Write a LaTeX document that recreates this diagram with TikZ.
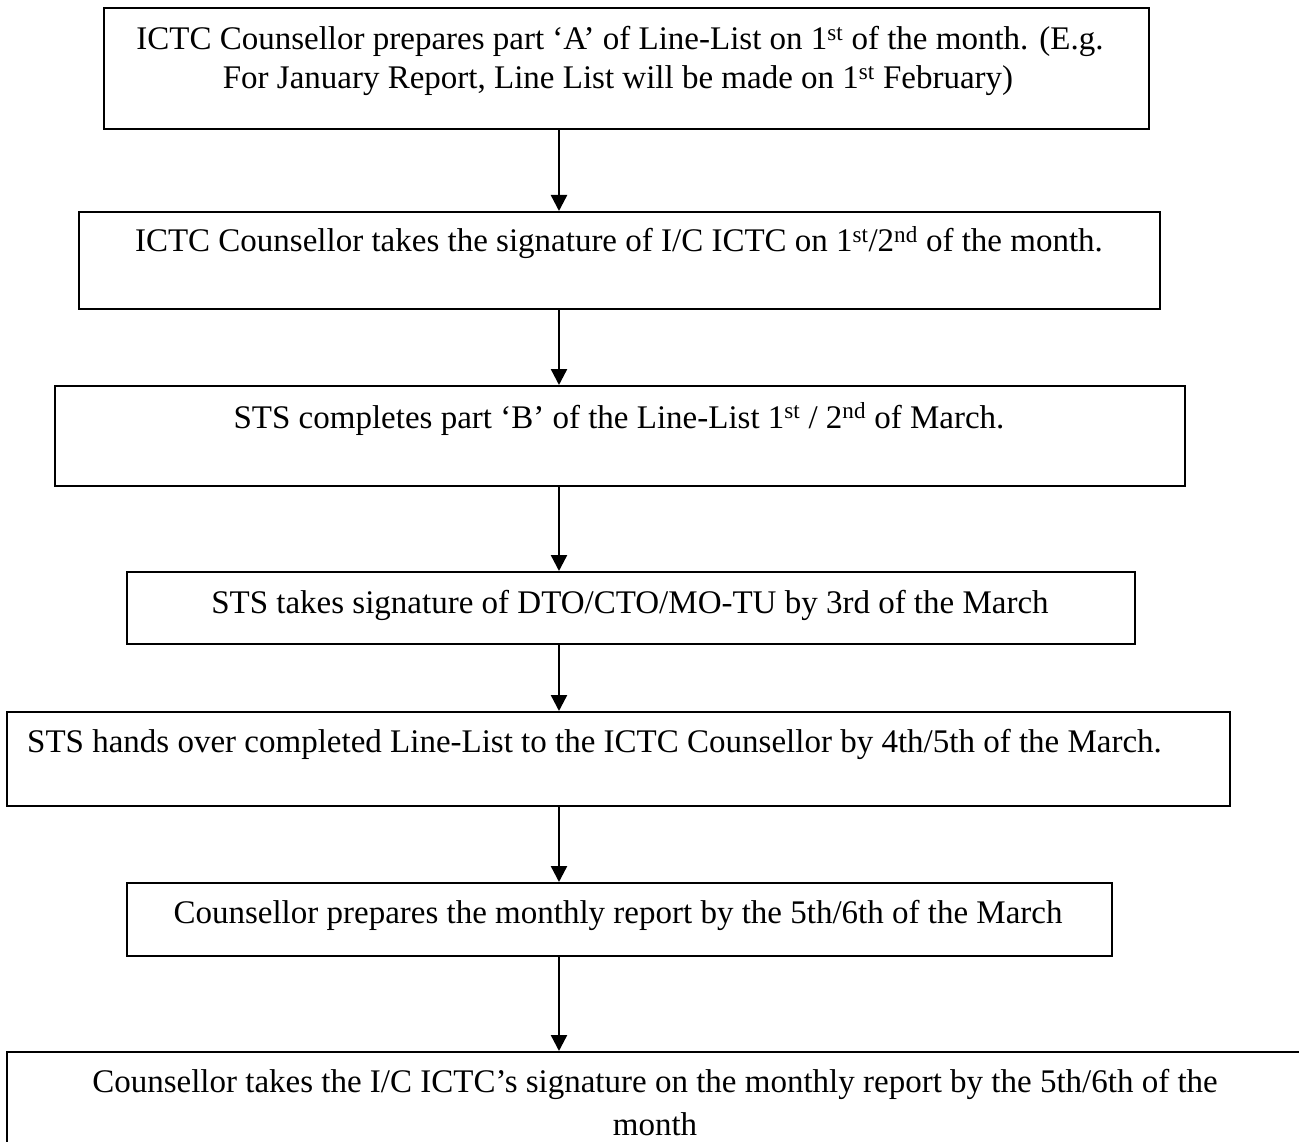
\documentclass[tikz,border=0pt]{standalone}
\usepackage{fontspec}
\setmainfont{Liberation Serif}
\usetikzlibrary{arrows.meta}
\tikzset{
  box/.style={draw=black, line width=2pt, rectangle, inner sep=0pt, anchor=north west},
  txt/.style={inner sep=0pt, anchor=base, font=\fontsize{33}{40}\selectfont},
  txtl/.style={inner sep=0pt, anchor=base west, font=\fontsize{33}{40}\selectfont},
  arr/.style={line width=2.4pt, -{Triangle[length=16pt,width=16pt]}}
}
\begin{document}
\begin{tikzpicture}[x=1pt,y=-1pt]
\useasboundingbox (0,0) rectangle (1299,1142);
\fill[white] (0,0) rectangle (1299,1142);
\clip (0,0) rectangle (1299,1142);
\coordinate (ax) at (559,0);
% boxes
\node[box, minimum width=1045pt, minimum height=121pt] (b1) at (103,7) {};
\node[box, minimum width=1081pt, minimum height=97pt] (b2) at (78,211) {};
\node[box, minimum width=1130pt, minimum height=100pt] (b3) at (54,385) {};
\node[box, minimum width=1008pt, minimum height=72pt] (b4) at (126,571) {};
\node[box, minimum width=1223pt, minimum height=94pt] (b5) at (6,711) {};
\node[box, minimum width=985pt, minimum height=73pt] (b6) at (126,882) {};
\node[box, minimum width=1400pt, minimum height=200pt] (b7) at (6,1051) {};
% texts
\node[txt] (t1a) at (620,50) {ICTC Counsellor prepares part ‘A’ of Line-List on 1\textsuperscript{st} of the month. (E.g.};
\node[txt] (t1b) at (618,89) {For January Report, Line List will be made on 1\textsuperscript{st} February)};
\node[txt] (t2) at (619,252) {ICTC Counsellor takes the signature of I/C ICTC on 1\textsuperscript{st}/2\textsuperscript{nd} of the month.};
\node[txt] (t3) at (619,428) {STS completes part ‘B’ of the Line-List 1\textsuperscript{st} / 2\textsuperscript{nd} of March.};
\node[txt] (t4) at (630,613) {STS takes signature of DTO/CTO/MO-TU by 3rd of the March};
\node[txtl] (t5) at (27,752) {STS hands over completed Line-List to the ICTC Counsellor by 4th/5th of the March.};
\node[txt] (t6) at (618,923) {Counsellor prepares the monthly report by the 5th/6th of the March};
\node[txt] (t7a) at (655,1092) {Counsellor takes the I/C ICTC’s signature on the monthly report by the 5th/6th of the};
\node[txt] (t7b) at (655,1135) {month};
% arrows
\draw[arr] (b1.south -| ax) -- (b2.north -| ax);
\draw[arr] (b2.south -| ax) -- (b3.north -| ax);
\draw[arr] (b3.south -| ax) -- (b4.north -| ax);
\draw[arr] (b4.south -| ax) -- (b5.north -| ax);
\draw[arr] (b5.south -| ax) -- (b6.north -| ax);
\draw[arr] (b6.south -| ax) -- (b7.north -| ax);
\end{tikzpicture}
\end{document}
